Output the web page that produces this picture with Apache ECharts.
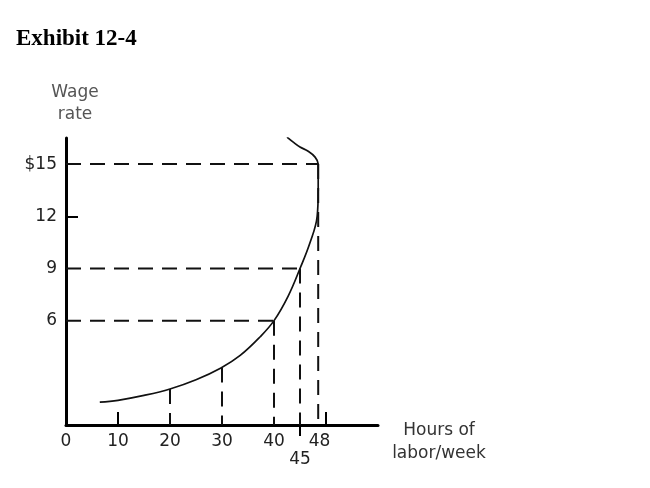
<!DOCTYPE html>
<html><head><meta charset="utf-8">
<script src="https://cdn.jsdelivr.net/npm/echarts@6/dist/echarts.min.js"></script>
<style>html,body{margin:0;padding:0;background:#fff}#c{width:650px;height:488px}</style>
</head><body><div id="c"></div>
<script>
// Labor supply curve (hours of labor/week, wage rate)
const curveHours = [6.5, 10, 15, 20, 25, 29.8, 33.5, 37.3, 40, 42.7, 45, 46.9, 48.3, 48.5, 48.5, 47.9, 46.5, 45, 43.7, 42.5];
const curveWage  = [1.32, 1.42, 1.7, 2.07, 2.6, 3.28, 4.0, 5.06, 6, 7.4, 9, 10.46, 12, 13.5, 15, 15.4, 15.75, 15.98, 16.26, 16.55];
// Horizontal guides: wage level and hours where they meet the curve
const guideWages = [15, 9, 6];
const guideWageHours = [48.5, 45, 40];
// Vertical guides: hours and wage where they meet the curve
const guideHours = [20, 30, 40, 45, 48.5];
const guideHourWages = [2.07, 3.3, 6, 9, 15];
// Tick labels
const xTickLabels = [0, 10, 20, 30, 40, 48];
const xLowerLabel = [45];
const xInnerTicks = [10, 50];
const yTickLabels = [6, 9, 12, 15];
const yInnerTicks = [12];

const dash = { color: '#111', width: 2, type: [15, 9] };
const series = [{
  type: 'line', xAxisIndex: 0, yAxisIndex: 0, showSymbol: false, smooth: 0.4,
  lineStyle: { color: '#111', width: 1.7 },
  data: curveHours.map((h, i) => [h, curveWage[i]]), z: 5, silent: true
}];
guideWages.forEach((w, i) => series.push({
  type: 'line', showSymbol: false, lineStyle: dash, silent: true,
  data: [[0, w], [guideWageHours[i], w]]
}));
guideHours.forEach((h, i) => series.push({
  type: 'line', showSymbol: false, lineStyle: dash, silent: true,
  data: [[h, guideHourWages[i]], [h, 0]]
}));

const font = 'DejaVu Sans';
const chart = echarts.init(document.getElementById('c'));
chart.setOption({
  animation: false,
  backgroundColor: '#fff',
  title: {
    text: 'Exhibit 12-4', left: 11, top: 23,
    textStyle: { fontFamily: 'Liberation Serif', fontWeight: 'bold', fontSize: 23, color: '#000' }
  },
  grid: { left: 66, top: 138, right: 272, bottom: 63 },
  xAxis: [{
    type: 'value', min: 0, max: 60, position: 'bottom',
    axisLine: { lineStyle: { color: '#000', width: 3 } },
    axisTick: { show: true, inside: true, length: 13, customValues: xInnerTicks, lineStyle: { color: '#000', width: 2 } },
    axisLabel: {
      customValues: xTickLabels, margin: 8, fontFamily: font, fontSize: 17, color: '#222',
      formatter: v => v === 48 ? '{s|48}' : String(v),
      rich: { s: { fontFamily: font, fontSize: 17, color: '#222', padding: [0, 0, 0, 8] } }
    },
    splitLine: { show: false },
    name: '{p| }\n{a|Hours of}\n{a|labor/week}', nameLocation: 'end', nameGap: 61, nameMoveOverlap: false,
    nameTextStyle: {
      fontFamily: font, fontSize: 17, color: '#333', align: 'center', verticalAlign: 'middle',
      rich: {
        p: { fontSize: 2, lineHeight: 35 },
        a: { fontFamily: font, fontSize: 17, color: '#333', lineHeight: 23 }
      }
    }
  }, {
    type: 'value', min: 0, max: 60, position: 'bottom',
    axisLine: { show: false },
    axisTick: { show: true, inside: false, length: 11, customValues: xLowerLabel, lineStyle: { color: '#000', width: 2 } },
    axisLabel: { customValues: xLowerLabel, margin: 26, fontFamily: font, fontSize: 17, color: '#222' },
    splitLine: { show: false }
  }],
  yAxis: {
    type: 'value', min: 0, max: 16.5,
    axisLine: { show: true, lineStyle: { color: '#000', width: 3 } },
    axisTick: { show: true, inside: true, length: 12, customValues: yInnerTicks, lineStyle: { color: '#000', width: 2 } },
    axisLabel: {
      customValues: yTickLabels, margin: 9, fontFamily: font, fontSize: 17, color: '#222',
      formatter: v => v === 15 ? '$15' : String(v)
    },
    splitLine: { show: false },
    name: 'Wage\nrate', nameLocation: 'end', nameGap: 12,
    nameTextStyle: { fontFamily: font, fontSize: 17, color: '#555', align: 'center', lineHeight: 22, padding: [0, 0, 0, 18] }
  },
  series: series
});
</script></body></html>
